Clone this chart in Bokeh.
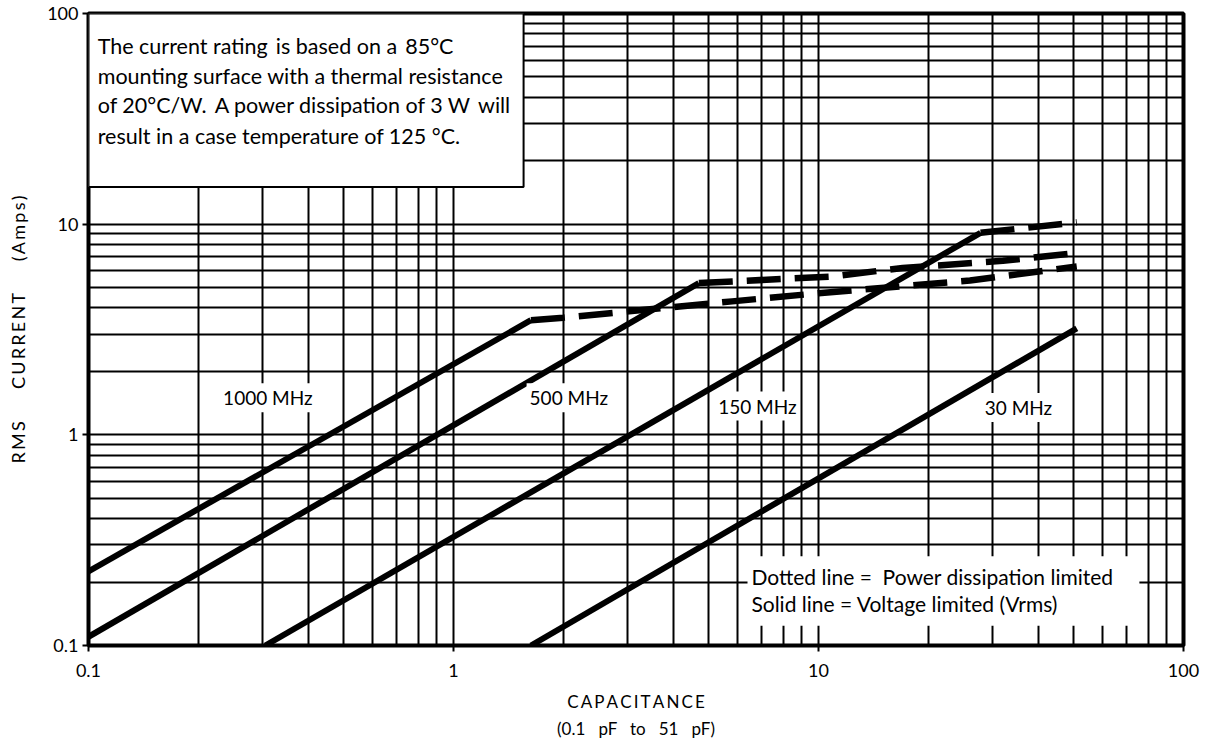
from bokeh.plotting import figure
from bokeh.models import Range1d, FixedTicker, CustomJSTickFormatter, BoxAnnotation, Label, Title
from bokeh.embed import file_html
from bokeh.resources import INLINE

# ---- data ----
major_ticks = [0.1, 1, 10, 100]
minor_ticks = [m * d for d in (0.1, 1, 10) for m in range(2, 10)]

cap_1000_v = [0.1, 1.63]
cur_1000_v = [0.225, 3.5]
cap_1000_p = [1.63, 2.0, 5.8, 10, 26, 51]
cur_1000_p = [3.5, 3.6, 4.3, 4.7, 5.4, 6.3]

cap_500_v = [0.1, 4.7]
cur_500_v = [0.11, 5.25]
cap_500_p = [4.7, 11, 17, 32, 51]
cur_500_p = [5.25, 5.65, 6.2, 6.7, 7.3]

cap_150_v = [0.305, 27.8]
cur_150_v = [0.1, 9.1]
cap_150_p = [27.8, 51]
cur_150_p = [9.1, 10.2]

cap_30_v = [1.63, 51]
cur_30_v = [0.1, 3.2]

FONT = "Lato"
NB = "\u00a0"
TH = "\u2009"
GAP = NB + TH


def spaced(word):
    return TH.join(word)


p = figure(frame_width=1095, frame_height=632,
           x_axis_type="log", y_axis_type="log",
           x_range=Range1d(0.1, 100), y_range=Range1d(0.1, 100),
           output_backend="svg", toolbar_location=None,
           min_border_left=88, min_border_right=18, min_border_top=13, min_border_bottom=4,
           background_fill_color="white", border_fill_color="white")

p.outline_line_color = "black"
p.outline_line_width = 4

for ax in (p.xaxis[0], p.yaxis[0]):
    ax.ticker = FixedTicker(ticks=major_ticks, minor_ticks=minor_ticks)
    ax.formatter = CustomJSTickFormatter(code="return String(tick);")
    ax.axis_line_color = None
    ax.major_tick_line_color = "black"
    ax.major_tick_line_width = 2
    ax.major_tick_out = 6
    ax.major_tick_in = 0
    ax.minor_tick_out = 0
    ax.minor_tick_in = 0
    ax.major_label_text_font = FONT
    ax.major_label_text_font_size = "18px"
    ax.major_label_text_color = "black"
    ax.axis_label_text_font = FONT
    ax.axis_label_text_font_style = "normal"
    ax.axis_label_text_font_size = "17px"
    ax.axis_label_text_color = "black"

p.yaxis.major_label_standoff = 4
p.yaxis.axis_label = spaced("RMS") + NB * 7 + spaced("CURRENT") + NB * 7 + spaced("(Amps)")
p.yaxis.axis_label_text_font_size = "18px"
p.yaxis.axis_label_standoff = 15
p.xaxis.major_label_standoff = 12
p.xaxis.axis_label = spaced("CAPACITANCE")
p.xaxis.axis_label_standoff = 11

sub = Title(text="(0.1" + NB * 3 + "pF" + NB * 3 + "to" + NB * 3 + "51" + NB * 3 + "pF)",
            align="center", text_font=FONT, text_font_size="17px",
            text_font_style="normal", text_color="black", standoff=3, offset=0)
p.add_layout(sub, "below")

for g in (p.xgrid[0], p.ygrid[0]):
    g.grid_line_color = "black"
    g.grid_line_width = 2
    g.minor_grid_line_color = "black"
    g.minor_grid_line_width = 2

LW = 6
DASH = "34 14"
p.line(cap_1000_v, cur_1000_v, line_width=LW, line_color="black")
p.line(cap_1000_p, cur_1000_p, line_width=LW + 0.5, line_color="black", line_dash=DASH)
p.line(cap_500_v, cur_500_v, line_width=LW, line_color="black")
p.line(cap_500_p, cur_500_p, line_width=LW + 0.5, line_color="black", line_dash=DASH)
p.line(cap_150_v, cur_150_v, line_width=LW, line_color="black")
p.line(cap_150_p, cur_150_p, line_width=LW + 0.5, line_color="black", line_dash=DASH)
p.line(cap_30_v, cur_30_v, line_width=LW, line_color="black")

# note box, top left
p.add_layout(BoxAnnotation(left=0.1, right=1.556, bottom=15.0, top=100,
                           fill_color="white", fill_alpha=1.0,
                           line_color="black", line_width=2, line_alpha=1.0))
# legend box, bottom right
p.add_layout(BoxAnnotation(left=6.39, right=75.7, bottom=0.124, top=0.265,
                           fill_color="white", fill_alpha=1.0,
                           line_color=None))

note_lines = [
    "The current rating" + GAP + "is based on a" + GAP + "85\u00b0C",
    "mounting surface with a thermal resistance",
    "of 20\u00b0C/W." + GAP + "A power dissipation of 3 W" + GAP + "will",
    "result in a case temperature of 125 \u00b0C.",
]
note_y = [70.0, 50.5, 36.6, 26.2]
for t, yy in zip(note_lines, note_y):
    p.add_layout(Label(x=0.106, y=yy, text=t, text_font=FONT, text_font_size="21.5px",
                       text_align="left", text_baseline="middle", text_color="black"))

legend_lines = ["Dotted line =" + NB * 2 + "Power dissipation limited",
                "Solid line = Voltage limited (Vrms)"]
legend_y = [0.213, 0.159]
for t, yy in zip(legend_lines, legend_y):
    p.add_layout(Label(x=6.55, y=yy, text=t, text_font=FONT, text_font_size="21px",
                       text_align="left", text_baseline="middle", text_color="black"))

freq_labels = ["1000 MHz", "500 MHz", "150 MHz", "30 MHz"]
freq_x = [0.31, 2.07, 6.8, 35.3]
freq_y = [1.5, 1.5, 1.37, 1.35]
for t, xx, yy in zip(freq_labels, freq_x, freq_y):
    p.add_layout(Label(x=xx, y=yy, text=t, text_font=FONT, text_font_size="19px",
                       text_align="center", text_baseline="middle", text_color="black",
                       background_fill_color="white", background_fill_alpha=1.0,
                       padding=3))

open("out.html", "w").write(file_html(p, INLINE))
